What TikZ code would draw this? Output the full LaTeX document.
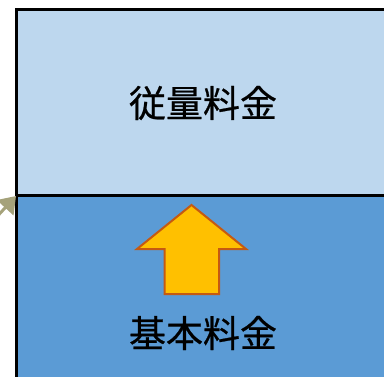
\documentclass[tikz,border=0pt]{standalone}
\usepackage{fontspec}
\newfontfamily\cjk[FakeBold=0.6]{Noto Sans CJK JP}
\usetikzlibrary{arrows.meta}
\definecolor{lightblue}{HTML}{BDD7EE}
\definecolor{midblue}{HTML}{5B9BD5}
\definecolor{arrowfill}{HTML}{FFC000}
\definecolor{arrowline}{HTML}{C55A11}
\definecolor{olive}{HTML}{A5A27A}
\tikzset{
  layer/.style={draw=black, line width=3pt},
  label/.style={font=\cjk\fontsize{37}{40}\selectfont, text=black, inner sep=0pt},
  bigarrow/.style={fill=arrowfill, draw=arrowline, line width=2pt, line join=miter},
  pointer/.style={draw=olive, line width=3pt, -{Triangle[length=16pt,width=22pt]}}
}
\begin{document}
\begin{tikzpicture}[x=1pt,y=-1pt]
\useasboundingbox (0,0) rectangle (384,376);
\fill[midblue] (16.5,195.5) rectangle (400,390);
\fill[lightblue] (16.5,9.5) rectangle (400,195.5);
\draw[layer] (400,9.5) -- (16.5,9.5) -- (16.5,390);
\draw[layer] (16.5,195.5) -- (400,195.5);
\node[label] (usage) at (203,103) {従量料金};
\node[label] (base) at (203,333) {基本料金};
\draw[bigarrow] (191.5,205) -- (246,249) -- (219,249) -- (219,294) -- (164.5,294) -- (164.5,249) -- (137,249) -- cycle;
\coordinate (src) at (-20,235);
\coordinate (corner) at (16,196);
\draw[pointer] (src) -- (corner);
\end{tikzpicture}
\end{document}
